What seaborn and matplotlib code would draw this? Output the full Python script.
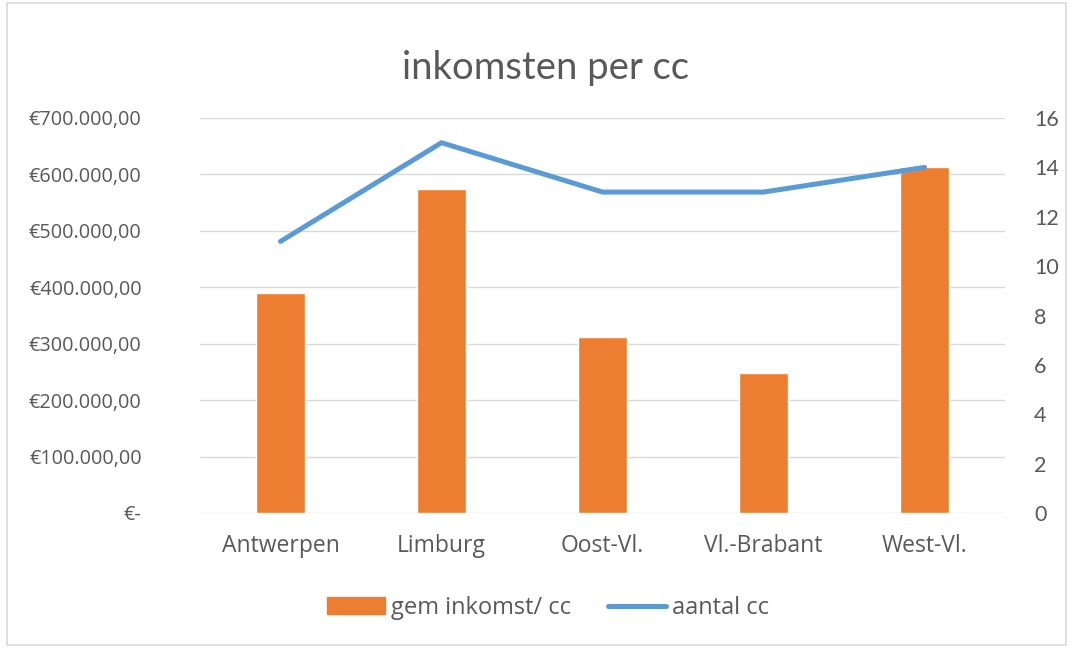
import matplotlib
matplotlib.use("Agg")
import matplotlib.pyplot as plt
import matplotlib.patches as mpatches
from matplotlib.lines import Line2D
import seaborn as sns
import numpy as np

regions = ["Antwerpen", "Limburg", "Oost-Vl.", "Vl.-Brabant", "West-Vl."]
gem_inkomst = [390000, 574000, 312000, 248000, 613000]
aantal_cc = [11, 15, 13, 13, 14]
left_ticks = [0, 100000, 200000, 300000, 400000, 500000, 600000, 700000]
left_labels = ["€-", "€100.000,00", "€200.000,00", "€300.000,00", "€400.000,00",
               "€500.000,00", "€600.000,00", "€700.000,00"]
right_ticks = [0, 2, 4, 6, 8, 10, 12, 14, 16]

ORANGE = "#ED7D31"
BLUE = "#5B9BD5"
TEXT = "#595959"
GRID = "#D9D9D9"

sns.set_style("white")
plt.rcParams['font.family'] = ['Open Sans', 'DejaVu Sans']

fig = plt.figure(figsize=(10.7, 6.48), dpi=100)
ax = fig.add_axes([200 / 1070, 1 - 513 / 648, 805 / 1070, 395 / 648])

sns.barplot(x=regions, y=gem_inkomst, color=ORANGE, width=0.31, saturation=1, ax=ax)
ax.set_ylim(0, 700000)
ax.set_xlim(-0.5, len(regions) - 0.5)
ax.set_yticks(left_ticks)
ax.set_yticklabels(left_labels, fontsize=14.3, color=TEXT)
ax.tick_params(axis='x', length=0, labelsize=16.5, labelcolor=TEXT, pad=15)
ax.tick_params(axis='y', length=0, pad=42)
ax.yaxis.grid(True, color=GRID, linewidth=1)
ax.set_axisbelow(True)
for s in ax.spines.values():
    s.set_visible(False)
ax.set_xlabel("")
ax.set_ylabel("")

ax2 = ax.twinx()
sns.lineplot(x=np.arange(len(regions)), y=aantal_cc, color=BLUE, linewidth=3.6, ax=ax2)
ax2.set_ylim(0, 16)
ax2.set_yticks(right_ticks)
ax2.set_yticklabels([str(t) for t in right_ticks], fontsize=15.5, color=TEXT, family=['Lato', 'DejaVu Sans'])
ax2.tick_params(axis='y', length=0, pad=21)
for s in ax2.spines.values():
    s.set_visible(False)
ax2.set_ylabel("")

fig.text(545 / 1070, 1 - 68 / 648, "inkomsten per cc", ha='center', va='center',
         fontsize=27.5, color=TEXT, family=['Lato', 'DejaVu Sans'])

handles = [mpatches.Patch(color=ORANGE), Line2D([], [], color=BLUE, linewidth=3.6)]
fig.legend(handles, ["gem inkomst/ cc", "aantal cc"], loc='center',
           bbox_to_anchor=(548 / 1070, 1 - 608 / 648), ncol=2, frameon=False,
           fontsize=17, labelcolor=TEXT, handlelength=2.45, handletextpad=0.25,
           columnspacing=1.6)

fig.patches.append(mpatches.Rectangle((7 / 1070, 3 / 648), 1059 / 1070, 642 / 648,
                                      transform=fig.transFigure, fill=False,
                                      edgecolor=GRID, linewidth=1.2))

plt.savefig("out.png", dpi=100)
